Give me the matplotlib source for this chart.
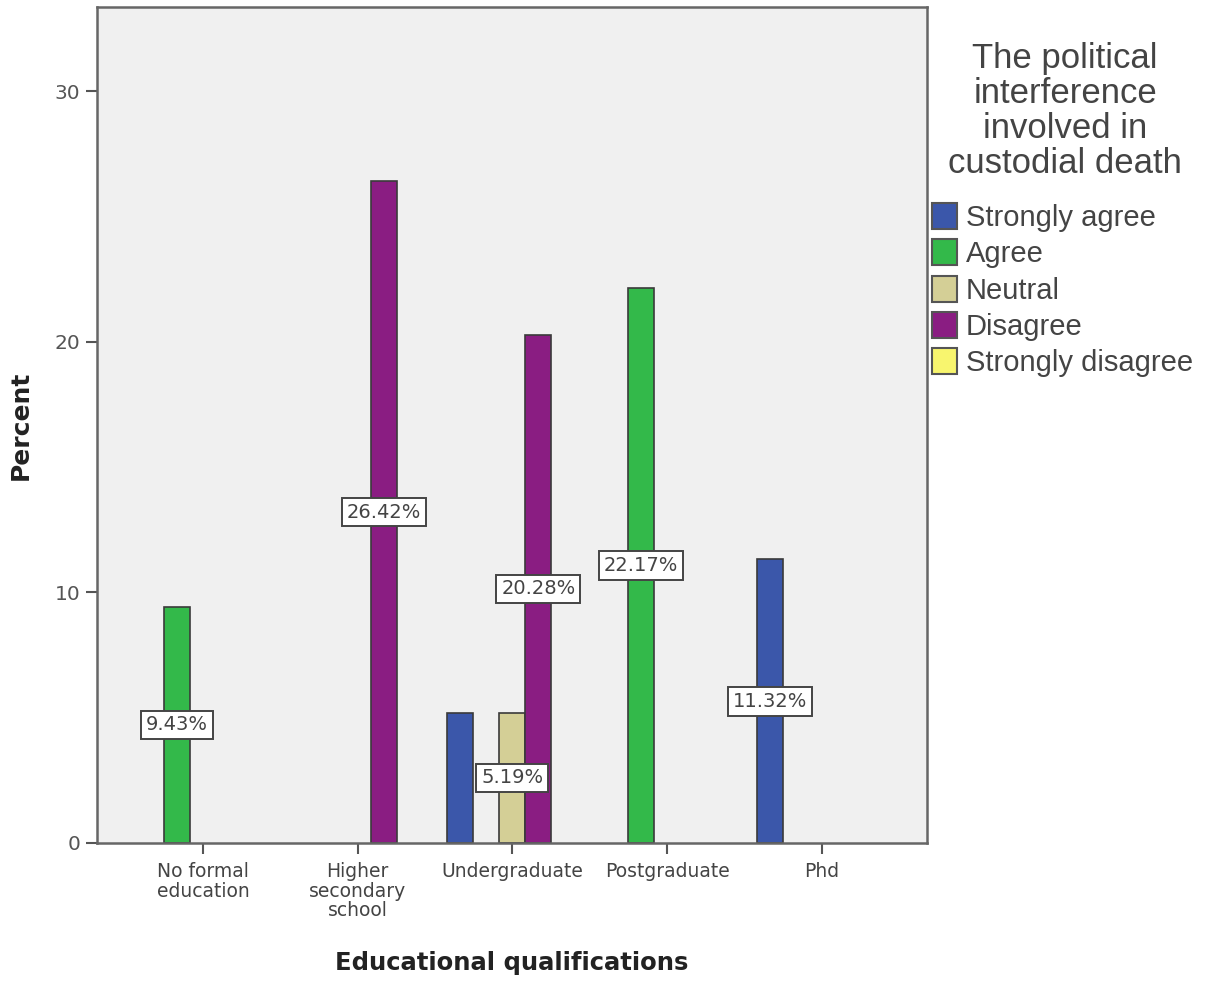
import matplotlib
matplotlib.use("Agg")
import matplotlib.pyplot as plt
from matplotlib.patches import Patch
import numpy as np

categories = ["No formal\neducation", "Higher\nsecondary\nschool", "Undergraduate", "Postgraduate", "Phd"]
series = ["Strongly agree", "Agree", "Neutral", "Disagree", "Strongly disagree"]
# values[series][category]
strongly_agree = [0, 0, 5.19, 0, 11.32]
agree = [9.43, 0, 0, 22.17, 0]
neutral = [0, 0, 5.19, 0, 0]
disagree = [0, 26.42, 20.28, 0, 0]
strongly_disagree = [0, 0, 0, 0, 0]
values = [strongly_agree, agree, neutral, disagree, strongly_disagree]
colors = ["#3b57aa", "#33b94a", "#d4cf96", "#8a1d82", "#f8f56e"]
legend_title = "The political\ninterference\ninvolved in\ncustodial death"
# labels shown: (series index, category index)
shown_labels = [(1, 0), (3, 1), (2, 2), (3, 2), (1, 3), (0, 4)]

plt.rcParams['font.family'] = ['DejaVu Sans']

fig = plt.figure(figsize=(12.06, 9.81), dpi=100)
ax = fig.add_axes([97/1206, 1-843/981, (927-97)/1206, (843-7)/981])
ax.set_facecolor("#f0f0f0")

w = 0.168
x = np.arange(len(categories))
for i, (name, vals) in enumerate(zip(series, values)):
    xs = [xi + (i - 2) * w for xi, v in zip(x, vals) if v > 0]
    hs = [v for v in vals if v > 0]
    ax.bar(xs, hs, width=w, color=colors[i], edgecolor="#3a3a3a", linewidth=1.2, zorder=2)

for si, ci in shown_labels:
    v = values[si][ci]
    ax.text(x[ci] + (si - 2) * w, v / 2, f"{v:.2f}%", ha="center", va="center",
            fontsize=14, color="#444444", zorder=3,
            bbox=dict(boxstyle="square,pad=0.25", fc="white", ec="#444444", lw=1.4))

ax.set_xlim(-0.685, 4.68)
ax.set_ylim(0, 33.37)
ax.set_yticks([0, 10, 20, 30])
ax.set_xticks(x)
ax.set_xticklabels(categories, fontsize=13.5, color="#444444", linespacing=1.03)
ax.tick_params(axis="y", labelsize=14.5, labelcolor="#555555", length=8, width=1.5, color="#555555", pad=4)
ax.tick_params(axis="x", length=8, width=1.5, color="#555555", direction="out", pad=6)
for s in ax.spines.values():
    s.set_color("#666666")
    s.set_linewidth(1.8)

ax.set_xlabel("Educational qualifications", fontsize=17.5, fontweight="bold", color="#222222", labelpad=22)
ax.set_ylabel("Percent", fontsize=18, fontweight="bold", color="#222222", labelpad=16)

handles = [Patch(facecolor=c, edgecolor="#555555", linewidth=1.5) for c in colors]
leg = fig.legend(handles, series, loc="upper left", bbox_to_anchor=(932/1206, 1-203/981),
                 frameon=False, prop={'family': 'Liberation Sans', 'size': 21},
                 handlelength=0.85, handleheight=1.0, handletextpad=0.3,
                 labelspacing=0.25, borderaxespad=0, borderpad=0)
for t in leg.get_texts():
    t.set_color("#444444")

fig.text(1065/1206, 1-111/981, legend_title, ha="center", va="center", multialignment="center",
         family="Liberation Sans", fontsize=25, color="#444444", linespacing=1.08)

fig.savefig("out.png", dpi=100)
